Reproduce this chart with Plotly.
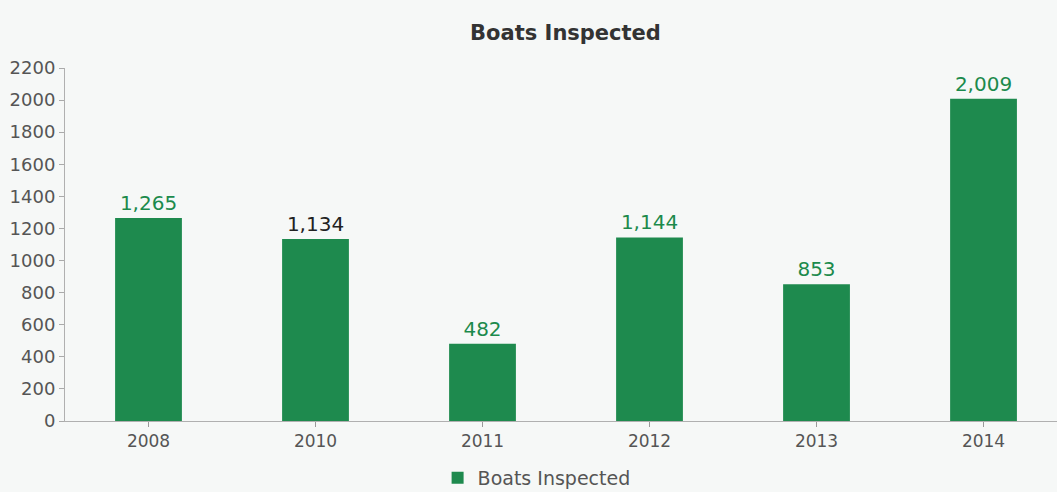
import plotly.graph_objects as go

years = ["2008", "2010", "2011", "2012", "2013", "2014"]
boats = [1265, 1134, 482, 1144, 853, 2009]
labels = ["1,265", "1,134", "482", "1,144", "853", "2,009"]
label_colors = ["#1c8a4c", "#222222", "#1c8a4c", "#1c8a4c", "#1c8a4c", "#1c8a4c"]
y_ticks = list(range(0, 2201, 200))

BAR = "#1e8a4e"
BG = "#f6f8f7"
FONT = "DejaVu Sans, Verdana, sans-serif"

fig = go.Figure()
fig.add_trace(go.Bar(
    x=years, y=boats, name="Boats Inspected",
    marker=dict(color=BAR, line=dict(width=0)),
    width=0.4,
    text=labels, textposition="outside", cliponaxis=False,
    textfont=dict(family=FONT, size=20, color=label_colors),
))

fig.update_layout(
    width=1057, height=492,
    margin=dict(l=65, r=0, t=68, b=71),
    paper_bgcolor=BG, plot_bgcolor=BG,
    font=dict(family=FONT, color="#555555"),
    title=dict(text="<b>Boats Inspected</b>", x=0.535, xanchor="center",
               y=1 - 33 / 492, yanchor="middle",
               font=dict(family=FONT, size=21, color="#333333")),
    showlegend=True,
    legend=dict(orientation="h", xref="container", yref="container",
                x=0.414, xanchor="left", y=1 - 478 / 492, yanchor="middle",
                font=dict(family=FONT, size=19, color="#555555"),
                bgcolor="rgba(0,0,0,0)"),
    xaxis=dict(type="category", range=[-0.5, 5.44],
               showline=True, linecolor="#b0b0b0", linewidth=1,
               ticks="outside", ticklen=5, tickcolor="#999999",
               showgrid=False, tickfont=dict(size=17, color="#555555")),
    yaxis=dict(range=[0, 2200], tickvals=y_ticks,
               showline=True, linecolor="#b0b0b0", linewidth=1,
               ticks="outside", ticklen=5, tickcolor="#aaaaaa",
               showgrid=False, zeroline=False,
               tickfont=dict(size=18, color="#555555")),
)

fig.write_html("out.html", config={"displayModeBar": False},
               post_script="document.body.style.margin='0';document.body.style.background='" + BG + "';")
